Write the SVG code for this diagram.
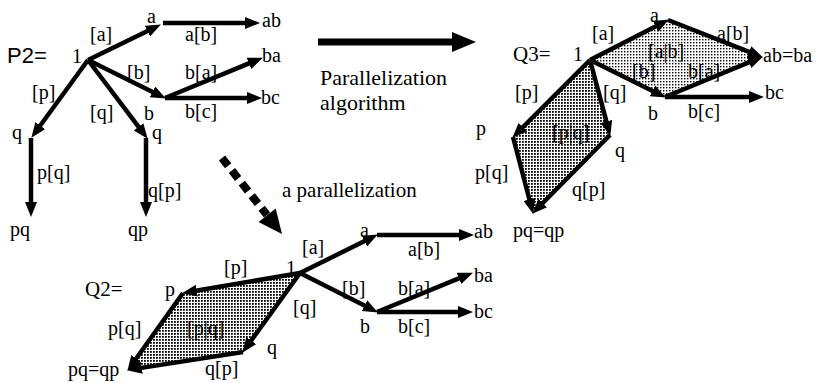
<svg xmlns="http://www.w3.org/2000/svg" width="818" height="383" viewBox="0 0 818 383">
<style>
text{font-family:"Liberation Serif","Times New Roman",serif;font-size:20px;fill:#000}
.sans{font-family:"Liberation Sans",Arial,sans-serif;font-size:22px}
.big{font-size:22px}
.e{stroke:#000;stroke-width:4.5;fill:none;marker-end:url(#ah)}
.shadeD{fill:url(#dotsD);stroke:none}
.shadeL{fill:url(#dotsL);stroke:none}
</style>
<defs>
<marker id="ah" markerUnits="userSpaceOnUse" markerWidth="16" markerHeight="14" refX="7" refY="6" orient="auto">
<path d="M0,0 L15,6 L0,12 z" fill="#000"/>
</marker>
<pattern id="dotsD" width="3" height="3" patternUnits="userSpaceOnUse">
<rect width="3" height="3" fill="#fff"/><rect width="1.8" height="1.8" fill="#000"/>
</pattern>
<pattern id="dotsL" width="3" height="3" patternUnits="userSpaceOnUse">
<rect width="3" height="3" fill="#fff"/><rect width="1.4" height="1.4" fill="#000"/>
</pattern>
</defs>
<rect width="818" height="383" fill="#fff"/>

<g id="shading">
<polygon class="shadeL" points="590,60 668,20 762,57 665,97"/>
<polygon class="shadeD" points="590,60 513,137 533,213 610,135"/>
<polygon class="shadeD" points="300,273 183,293 128,370 243,352"/>
</g>

<g id="connectors">
<!-- P2 -->
<line class="e" x1="88" y1="60" x2="153.7" y2="28.1"/>
<line class="e" x1="163" y1="23" x2="252" y2="23"/>
<line class="e" x1="88" y1="60" x2="158.7" y2="94.9"/>
<line class="e" x1="165" y1="98" x2="255.5" y2="60.7"/>
<line class="e" x1="165" y1="98" x2="254" y2="98"/>
<line class="e" x1="88" y1="60" x2="36.1" y2="131.3"/>
<line class="e" x1="88" y1="60" x2="142.8" y2="132.4"/>
<line class="e" x1="31" y1="138" x2="31" y2="209"/>
<line class="e" x1="146" y1="138" x2="146" y2="209"/>
<!-- Q3 -->
<line class="e" x1="590" y1="60" x2="661.8" y2="23.2"/>
<line class="e" x1="668" y1="20" x2="755.5" y2="54.4"/>
<line class="e" x1="590" y1="60" x2="658.7" y2="93.9"/>
<line class="e" x1="665" y1="97" x2="755.5" y2="59.7"/>
<line class="e" x1="665" y1="97" x2="756" y2="97"/>
<line class="e" x1="590" y1="60" x2="518" y2="132"/>
<line class="e" x1="590" y1="60" x2="608.2" y2="128.2"/>
<line class="e" x1="513" y1="137" x2="531.2" y2="206.2"/>
<line class="e" x1="610" y1="135" x2="537.9" y2="208"/>
<!-- Q2 -->
<line class="e" x1="300" y1="273" x2="370.7" y2="238.1"/>
<line class="e" x1="377" y1="235" x2="466" y2="235"/>
<line class="e" x1="300" y1="273" x2="370.8" y2="308.8"/>
<line class="e" x1="377" y1="312" x2="465.5" y2="275.7"/>
<line class="e" x1="377" y1="312" x2="465" y2="312"/>
<line class="e" x1="300" y1="273" x2="189.9" y2="291.8"/>
<line class="e" x1="183" y1="293" x2="132.1" y2="364.3"/>
<line class="e" x1="300" y1="273" x2="247.1" y2="346.3"/>
<line class="e" x1="243" y1="352" x2="134.9" y2="368.9"/>
<!-- big arrow -->
<line x1="318" y1="42" x2="453" y2="42" stroke="#000" stroke-width="7"/>
<polygon points="452,32 476,42 452,52" fill="#000"/>
<!-- dashed arrow -->
<line x1="222" y1="158" x2="267" y2="215" stroke="#000" stroke-width="8" stroke-dasharray="10 6"/>
<polygon points="282,234 275.7,208.4 258.5,222" fill="#000"/>
<!-- edge labels P2 -->
<text x="90" y="41">[a]</text>
<text x="185" y="41">a[b]</text>
<text x="127" y="79">[b]</text>
<text x="185" y="79">b[a]</text>
<text x="185" y="118">b[c]</text>
<text x="90" y="119">[q]</text>
<text x="32" y="99">[p]</text>
<text x="37" y="179">p[q]</text>
<text x="148" y="197">q[p]</text>
<!-- edge labels Q3 -->
<text x="592" y="40">[a]</text>
<text x="717" y="40">a[b]</text>
<text x="648" y="58">[a|b]</text>
<text x="632" y="78">[b]</text>
<text x="688" y="78">b[a]</text>
<text x="688" y="118">b[c]</text>
<text x="515" y="99">[p]</text>
<text x="603" y="99">[q]</text>
<text x="552" y="139">[p|q]</text>
<text x="475" y="179">p[q]</text>
<text x="572" y="196">q[p]</text>
<!-- edge labels Q2 -->
<text x="224" y="274">[p]</text>
<text x="302" y="254">[a]</text>
<text x="408" y="256">a[b]</text>
<text x="342" y="295">[b]</text>
<text x="398" y="295">b[a]</text>
<text x="398" y="333">b[c]</text>
<text x="293" y="314">[q]</text>
<text x="108" y="335">p[q]</text>
<text x="187" y="335">[p|q]</text>
<text x="205" y="375">q[p]</text>
<!-- arrow labels -->
<text class="big" x="320" y="85">Parallelization</text>
<text class="big" x="320" y="110">algorithm</text>
<text x="282" y="197" style="font-size:21px">a parallelization</text>
</g>

<g id="P2">
<g id="p2-title"><text class="sans" x="7" y="63">P2=</text></g>
<g id="p2-1"><text x="72" y="63">1</text></g>
<g id="p2-a"><text x="147" y="23">a</text></g>
<g id="p2-ab"><text x="262" y="27">ab</text></g>
<g id="p2-ba"><text x="262" y="62">ba</text></g>
<g id="p2-bc"><text x="261" y="104">bc</text></g>
<g id="p2-b"><text x="144" y="120">b</text></g>
<g id="p2-q1"><text x="12" y="139">q</text></g>
<g id="p2-q2"><text x="152" y="139">q</text></g>
<g id="p2-pq"><text x="10" y="236">pq</text></g>
<g id="p2-qp"><text x="128" y="236">qp</text></g>
</g>

<g id="Q3">
<g id="q3-title"><text x="513" y="61" style="font-size:21px">Q3=</text></g>
<g id="q3-1"><text x="573" y="61">1</text></g>
<g id="q3-a"><text x="650" y="22">a</text></g>
<g id="q3-ab"><text x="763" y="62">ab=ba</text></g>
<g id="q3-b"><text x="648" y="120">b</text></g>
<g id="q3-bc"><text x="765" y="99">bc</text></g>
<g id="q3-p"><text x="476" y="135">p</text></g>
<g id="q3-q"><text x="615" y="157">q</text></g>
<g id="q3-pq"><text x="513" y="237">pq=qp</text></g>
</g>

<g id="Q2">
<g id="q2-title"><text x="85" y="296" style="font-size:21px">Q2=</text></g>
<g id="q2-1"><text x="286" y="275">1</text></g>
<g id="q2-a"><text x="360" y="237">a</text></g>
<g id="q2-ab"><text x="474" y="238">ab</text></g>
<g id="q2-ba"><text x="474" y="282">ba</text></g>
<g id="q2-bc"><text x="474" y="318">bc</text></g>
<g id="q2-b"><text x="360" y="333">b</text></g>
<g id="q2-p"><text x="165" y="296">p</text></g>
<g id="q2-q"><text x="267" y="354">q</text></g>
<g id="q2-pq"><text x="68" y="376">pq=qp</text></g>
</g>
</svg>
